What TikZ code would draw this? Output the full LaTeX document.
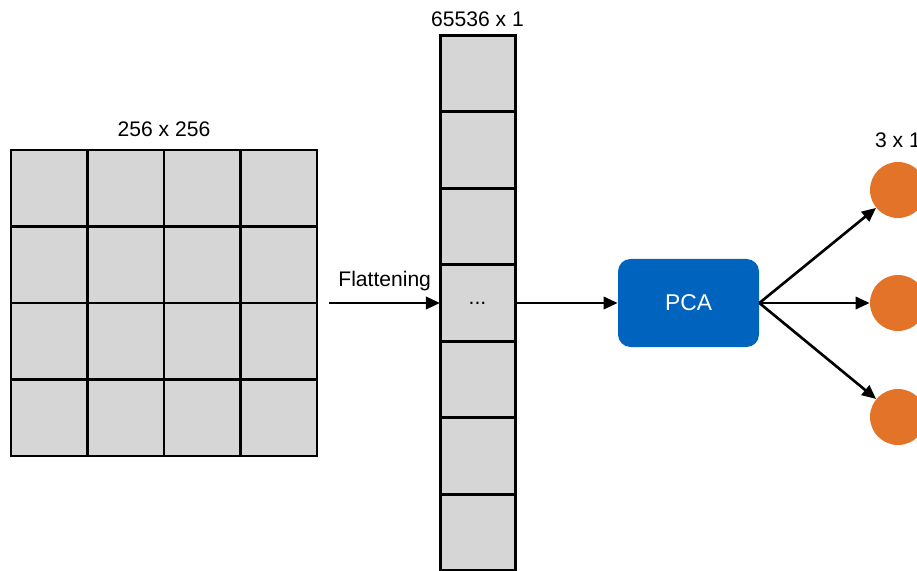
\documentclass[tikz,border=0pt]{standalone}
\usepackage{fontspec}
\setmainfont{Liberation Sans}
\usetikzlibrary{positioning, fit, arrows.meta}

\definecolor{cellgray}{HTML}{D6D6D6}
\definecolor{pcablue}{HTML}{0063BE}
\definecolor{outorange}{HTML}{E27328}

\begin{document}
\begin{tikzpicture}[
        every node/.style={font=\fontsize{12}{14}\selectfont},
        % grey cells of the image and of the flattened vector (borders drawn afterwards)
        cell/.style={fill=cellgray, minimum size=1.53cm, inner sep=0pt, outer sep=0pt},
        vcell/.style={cell, minimum width=1.5cm},
        cellborder/.style={draw=black, line width=1.7pt},
        % PCA block
        pcabox/.style={fill=pcablue, rounded corners=0.25cm, minimum width=2.82cm, minimum height=1.76cm, text=white, font=\fontsize{13}{15}\selectfont},
        % output components
        outnode/.style={circle, fill=outorange, minimum size=1.12cm, inner sep=0pt},
        arrow/.style={-{Triangle[length=8pt, width=7pt]}, line width=1.5pt},
        dimlabel/.style={inner sep=1pt}
    ]
    \useasboundingbox (0,0) rectangle (18.34,11.4);

    % --- 256 x 256 image as a 4x4 grid ---
    \foreach \i in {1,...,4}
        \foreach \j in {1,...,4}
            \node[cell] (g-\i-\j) at ({0.985+1.53*(\i-1)}, {7.635-1.53*(\j-1)}) {};
    \foreach \i in {1,...,4}
        \foreach \j in {1,...,4}
            \draw[cellborder] (g-\i-\j.south west) rectangle (g-\i-\j.north east);
    \node[fit=(g-1-1)(g-4-4), inner sep=0pt] (grid) {};
    \node[dimlabel, above=0.22cm of grid] (gridlabel) {256 x 256};

    % --- flattened vector 65536 x 1 ---
    \foreach \k in {1,...,7}
        \node[vcell] (col-\k) at (9.55, {9.93-1.53*(\k-1)}) {};
    \foreach \k in {1,...,7}
        \draw[cellborder] (col-\k.south west) rectangle (col-\k.north east);
    \node at (col-4) {...};
    \node[dimlabel, above=0.13cm of col-1] (collabel) {65536 x 1};

    % --- PCA ---
    \node[pcabox] (pca) at (13.77, 5.34) {PCA};

    % --- outputs 3 x 1 ---
    \node[outnode] (out-1) at (17.96, 7.6) {};
    \node[outnode] (out-2) at (17.96, 5.34) {};
    \node[outnode] (out-3) at (17.96, 3.06) {};
    \node[dimlabel, above=0.245cm of out-1] (outlabel) {3 x 1};

    % --- Connections ---
    \coordinate[xshift=0.24cm] (flat-start) at (grid.east |- col-4.west);
    \draw[arrow] (flat-start) -- node[dimlabel, above=5pt] (flatlabel) {Flattening} (col-4.west);
    \draw[arrow] (col-4.east) -- (pca.west);
    \foreach \k in {1,2,3}
        \draw[arrow] (pca.east) -- (out-\k);

\end{tikzpicture}
\end{document}
